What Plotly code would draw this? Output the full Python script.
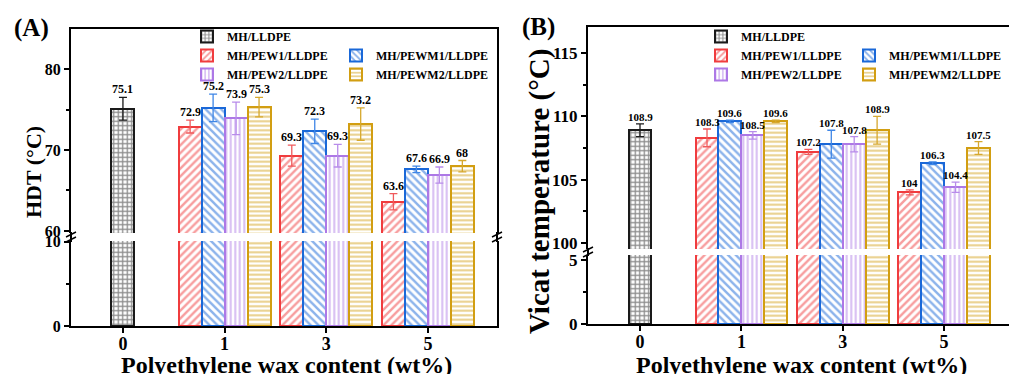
import plotly.graph_objects as go
import numpy as np

W, H = 1009, 374

# ---------------- data ----------------
categories = ['0', '1', '3', '5']
series_names = ['MH/LLDPE', 'MH/PEW1/LLDPE', 'MH/PEWM1/LLDPE', 'MH/PEW2/LLDPE', 'MH/PEWM2/LLDPE']

# (A) HDT (°C)
hdt_mh = [75.1]
hdt_pew1 = [72.9, 69.3, 63.6]
hdt_pewm1 = [75.2, 72.3, 67.6]
hdt_pew2 = [73.9, 69.3, 66.9]
hdt_pewm2 = [75.3, 73.2, 68.0]
hdt_mh_err = [1.4]
hdt_pew1_err = [0.8, 1.3, 1.0]
hdt_pewm1_err = [1.7, 1.5, 0.4]
hdt_pew2_err = [2.0, 1.4, 1.0]
hdt_pewm2_err = [1.2, 2.0, 0.7]

# (B) Vicat temperature (°C)
vicat_mh = [108.9]
vicat_pew1 = [108.3, 107.2, 104.0]
vicat_pewm1 = [109.6, 107.8, 106.3]
vicat_pew2 = [108.5, 107.8, 104.4]
vicat_pewm2 = [109.6, 108.9, 107.5]
vicat_mh_err = [0.5]
vicat_pew1_err = [0.7, 0.2, 0.2]
vicat_pewm1_err = [0.1, 1.1, 0.1]
vicat_pew2_err = [0.3, 0.6, 0.4]
vicat_pewm2_err = [0.1, 1.1, 0.5]

# ---------------- styles ----------------
colors = ['#1a1a1a', '#F03C3E', '#1A68D8', '#AD78E6', '#D29E12']
err_colors = ['#1a1a1a', '#F05A5C', '#3F86E6', '#B88CEA', '#D6A82E']
patterns = [('+', 4.5, 0.5), ('/', 5.5, 0.45), ('\\', 5.5, 0.45), ('|', 4.5, 0.45), ('-', 4.5, 0.45)]
FONT = 'Liberation Serif'
BAR_W = 0.226
offsets = [0.0, -1.5, -0.5, 0.5, 1.5]


def px_x(p):
    return p / W


def px_y(p):
    return 1 - p / H


fig = go.Figure()
annotations = []
shapes = []


def tfont(s):
    return dict(family=FONT, size=s, color='black', weight='bold')


def add_panel(values, errors, xl, yl, xu, yu, leg1, leg2, label_size):
    for i, (vals, errs) in enumerate(zip(values, errors)):
        if i == 0:
            pos = np.array([0.0])
        else:
            pos = np.arange(1, len(vals) + 1, dtype=float)
        xs = pos + offsets[i] * BAR_W
        shp, sz, sol = patterns[i]
        marker = dict(color='white',
                      line=dict(color=colors[i], width=2),
                      pattern=dict(shape=shp, size=sz, solidity=sol,
                                   fgcolor=colors[i], bgcolor='white', fillmode='overlay'))
        leg = leg1 if i in (0, 1, 3) else leg2
        # upper segment
        fig.add_trace(go.Bar(x=xs, y=vals, width=BAR_W, marker=marker, name=series_names[i],
                             xaxis=xu, yaxis=yu, legend=leg, showlegend=True,
                             error_y=dict(type='data', array=errs, color=err_colors[i],
                                          thickness=1.3, width=4)))
        # lower segment
        fig.add_trace(go.Bar(x=xs, y=vals, width=BAR_W, marker=marker, name=series_names[i],
                             xaxis=xl, yaxis=yl, showlegend=False))
        for x, v, e in zip(xs, vals, errs):
            annotations.append(dict(x=x, y=v + e, xref=xu, yref=yu, text=f'{v:g}',
                                    showarrow=False, xanchor='center', yanchor='bottom', yshift=-1,
                                    font=tfont(label_size)))


add_panel([hdt_mh, hdt_pew1, hdt_pewm1, hdt_pew2, hdt_pewm2],
          [hdt_mh_err, hdt_pew1_err, hdt_pewm1_err, hdt_pew2_err, hdt_pewm2_err],
          'x', 'y2', 'x2', 'y', 'legend', 'legend2', 12)
add_panel([vicat_mh, vicat_pew1, vicat_pewm1, vicat_pew2, vicat_pewm2],
          [vicat_mh_err, vicat_pew1_err, vicat_pewm1_err, vicat_pew2_err, vicat_pewm2_err],
          'x3', 'y4', 'x4', 'y3', 'legend3', 'legend4', 11)

base = dict(showline=True, linecolor='black', linewidth=2, ticks='outside', ticklen=5,
            tickwidth=2, tickcolor='black', showgrid=False, zeroline=False, automargin=False)

# Panel A geometry (pixels)
A_x0, A_x1 = 71, 497
A_up = (29, 233)
A_lo = (241, 326)
# Panel B geometry
B_x0, B_x1 = 588, 1009
B_up = (27, 249)
B_lo = (255, 324)

xcat = dict(tickvals=[0, 1, 2, 3], ticktext=categories, ticklabelstandoff=-5)
minorA = dict(ticks='outside', ticklen=3, tickwidth=2, tickcolor='black', dtick=5, tick0=0)
minorB = dict(ticks='outside', ticklen=3, tickwidth=2, tickcolor='black', dtick=2.5, tick0=0)

fig.update_layout(
    width=W, height=H, margin=dict(l=0, r=0, t=0, b=0), autosize=False,
    paper_bgcolor='white', plot_bgcolor='rgba(0,0,0,0)', barmode='overlay', bargap=0,
    # ---- panel A ----
    xaxis=dict(**base, domain=[px_x(A_x0), px_x(A_x1)], anchor='y2', range=[-0.511, 3.68],
               **xcat, tickfont=tfont(18)),
    xaxis2=dict(showline=True, linecolor='black', linewidth=2, ticks='', showticklabels=False,
                showgrid=False, zeroline=False, domain=[px_x(A_x0), px_x(A_x1)], anchor='y',
                side='top', matches='x', range=[-0.511, 3.68]),
    yaxis=dict(**base, domain=[px_y(A_up[1]), px_y(A_up[0])], anchor='x2', range=[59.75, 84.94],
               tick0=0, dtick=10, mirror=True, tickfont=tfont(16), minor=minorA),
    yaxis2=dict(**base, domain=[px_y(A_lo[1]), px_y(A_lo[0])], anchor='x', range=[0, 10.1],
                tick0=0, dtick=10, mirror=True, tickfont=tfont(16), minor=minorA),
    # ---- panel B ----
    xaxis3=dict(**base, domain=[px_x(B_x0), px_x(B_x1)], anchor='y4', range=[-0.513, 3.64],
                **xcat, tickfont=tfont(18)),
    xaxis4=dict(showline=True, linecolor='black', linewidth=2, ticks='', showticklabels=False,
                showgrid=False, zeroline=False, domain=[px_x(B_x0), px_x(B_x1)], anchor='y3',
                side='top', matches='x3', range=[-0.513, 3.64]),
    yaxis3=dict(**base, domain=[px_y(B_up[1]), px_y(B_up[0])], anchor='x4', range=[99.53, 117.05],
                tick0=0, dtick=5, tickfont=tfont(17), minor=minorB),
    yaxis4=dict(**base, domain=[px_y(B_lo[1]), px_y(B_lo[0])], anchor='x3', range=[0, 5.39],
                tick0=0, dtick=5, tickfont=tfont(17), minor=minorB),
)

leg_common = dict(xanchor='left', yanchor='top', bgcolor='rgba(0,0,0,0)', tracegroupgap=0,
                  font=tfont(12), itemclick=False, itemdoubleclick=False)
fig.update_layout(
    legend=dict(**leg_common, x=px_x(187), y=px_y(22)),
    legend2=dict(**leg_common, x=px_x(336), y=px_y(41)),
    legend3=dict(**leg_common, x=px_x(701), y=px_y(22)),
    legend4=dict(**leg_common, x=px_x(849), y=px_y(41)),
)


# axis continuity through the break + break markers
def axis_break(xpx, y_top, y_bot):
    shapes.append(dict(type='line', xref='paper', yref='paper', x0=px_x(xpx), x1=px_x(xpx),
                       y0=px_y(y_top - 1), y1=px_y(y_bot + 1), line=dict(color='black', width=2)))
    for dy in (-2.5, 2.5):
        yc = (y_top + y_bot) / 2 + dy
        shapes.append(dict(type='line', xref='paper', yref='paper', x0=px_x(xpx - 5), x1=px_x(xpx + 5),
                           y0=px_y(yc + 2.5), y1=px_y(yc - 2.5), line=dict(color='black', width=1.5)))


axis_break(A_x0, A_up[1], A_lo[0])
axis_break(A_x1, A_up[1], A_lo[0])
axis_break(B_x0, B_up[1], B_lo[0])

center = dict(xref='paper', yref='paper', showarrow=False, xanchor='center', yanchor='middle')
annotations += [
    dict(text='(A)', x=px_x(31), y=px_y(28), font=tfont(25), **center),
    dict(text='(B)', x=px_x(538), y=px_y(27), font=tfont(25), **center),
    dict(text='HDT (°C)', x=px_x(33), y=px_y(172), textangle=-90, font=tfont(22), **center),
    dict(text='Vicat temperature (°C)', x=px_x(539), y=px_y(192), textangle=-90,
         font=tfont(29), **center),
    dict(text='Polyethylene wax content (wt%)', x=px_x(286), y=px_y(365), font=tfont(24), **center),
    dict(text='Polyethylene wax content (wt%)', x=px_x(801), y=px_y(365), font=tfont(24), **center),
]

fig.update_layout(annotations=annotations, shapes=shapes)
fig.write_html('out.html')
